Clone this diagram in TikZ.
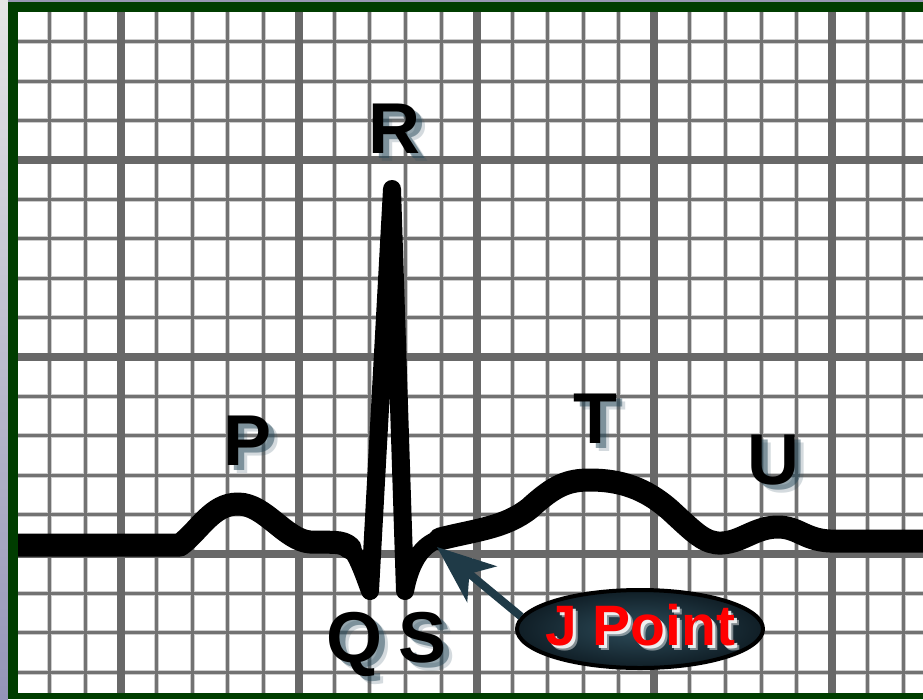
\documentclass[tikz,border=0pt]{standalone}
\usepackage{fontspec}
\setmainfont{Liberation Sans}
\usetikzlibrary{arrows.meta,shapes.geometric}
\definecolor{framegreen}{RGB}{0,61,0}
\definecolor{minorgray}{RGB}{114,114,114}
\definecolor{majorgray}{RGB}{104,104,104}
\definecolor{halogray}{RGB}{205,205,205}
\definecolor{slate}{RGB}{31,58,71}
\definecolor{slatelight}{RGB}{45,76,90}
\definecolor{slatedark}{RGB}{16,30,38}
\definecolor{shadowblue}{RGB}{40,74,90}
\newcommand{\wavelabel}[3]{%
  \node[waveshadow, opacity=0.2] (#1b) at ([xshift=9pt,yshift=-8pt]#2) {#3};
  \node[waveshadow, opacity=0.5] (#1a) at ([xshift=6pt,yshift=-5pt]#2) {#3};
  \node[wavetext] (#1) at (#2) {#3};}
\begin{document}
\begin{tikzpicture}[x=1pt, y=-1pt, line join=round,
    minor/.style={minorgray, line width=3pt},
    minorhalo/.style={halogray, line width=5pt},
    major/.style={majorgray, line width=8pt},
    trace/.style={black, line width=23pt, line join=round, line cap=round},
    spike/.style={trace, line width=18pt},
    wavetext/.style={anchor=base, inner sep=0pt, font=\bfseries\fontsize{72}{72}\selectfont},
    waveshadow/.style={wavetext, text=shadowblue},
    jfont/.style={anchor=base, inner sep=0pt, font=\bfseries\fontsize{57}{57}\selectfont},
    jarrow/.style={slate, line width=8pt, -{Stealth[length=58pt, width=46pt, inset=16pt]}}]
  \useasboundingbox (0,0) rectangle (923,699);
  % surroundings and frame
  \shade[top color=gray!20, bottom color=blue!20!gray!70] (0,0) rectangle (8,699);
  \fill[blue!15!gray!70] (8,0) rectangle (923,2);
  \fill[white] (18,12) rectangle (923,693);
  \begin{scope}
    \clip (18,12) rectangle (923,693);
    \foreach \k in {-3,...,22} \draw[minorhalo] ({121+35.56*\k},12) -- ({121+35.56*\k},693);
    \foreach \k in {-4,...,13} \draw[minorhalo] (18,{160+39.4*\k}) -- (923,{160+39.4*\k});
    \foreach \k in {-3,...,22} \draw[minor] ({121+35.56*\k},12) -- ({121+35.56*\k},693);
    \foreach \k in {-4,...,13} \draw[minor] (18,{160+39.4*\k}) -- (923,{160+39.4*\k});
    \foreach \k in {0,5,...,20} \draw[major] ({121+35.56*\k},12) -- ({121+35.56*\k},693);
    \foreach \k in {0,5,10} \draw[major] (18,{160+39.4*\k}) -- (923,{160+39.4*\k});
    % the trace
    \draw[trace] (0,545) -- (180,545)
      .. controls (200,530) and (212,504) .. (238,504)
      .. controls (265,504) and (285,540) .. (310,542)
      .. controls (330,543) and (342,540) .. (350,548);
    \draw[spike] (350,548)
      .. controls (358,556) and (365,578) .. (370,591)
      -- (392,189) -- (405,591)
      .. controls (410,565) and (420,545) .. (440,539);
    \draw[trace] (440,539)
      .. controls (475,530) and (505,528) .. (530,508)
      .. controls (555,485) and (568,480) .. (590,480)
      .. controls (620,480) and (645,488) .. (670,510)
      .. controls (695,533) and (705,544) .. (722,543)
      .. controls (742,542) and (755,527) .. (778,527)
      .. controls (798,527) and (805,540) .. (830,541) -- (940,541);
  \end{scope}
  \fill[framegreen] (8,2) rectangle (18,699);
  \fill[framegreen] (8,2) rectangle (923,12);
  \fill[framegreen] (8,693) rectangle (923,699);
  % wave labels
  \wavelabel{P}{248,465}{P}
  \wavelabel{R}{394,153}{R}
  \wavelabel{Q}{354,662}{Q}
  \wavelabel{S}{423,662}{S}
  \wavelabel{T}{595,443}{T}
  \wavelabel{U}{773,484}{U}
  % J point callout
  \coordinate (J) at (437,547);
  \node[ellipse, draw=black, line width=4pt, minimum width=246pt, minimum height=78pt,
    inner color=slatelight, outer color=slatedark] (jpt) at (640,629) {};
  \draw[jarrow] (jpt.174) -- (J);
  \node[jfont, text=white, opacity=0.45] (jglowb) at ([xshift=5pt,yshift=-5pt]640,645) {J Point};
  \node[jfont, text=white, opacity=0.85] (jglow) at ([xshift=3pt,yshift=-3pt]640,645) {J Point};
  \node[jfont, text=red] (jtext) at (640,645) {J Point};
\end{tikzpicture}
\end{document}
